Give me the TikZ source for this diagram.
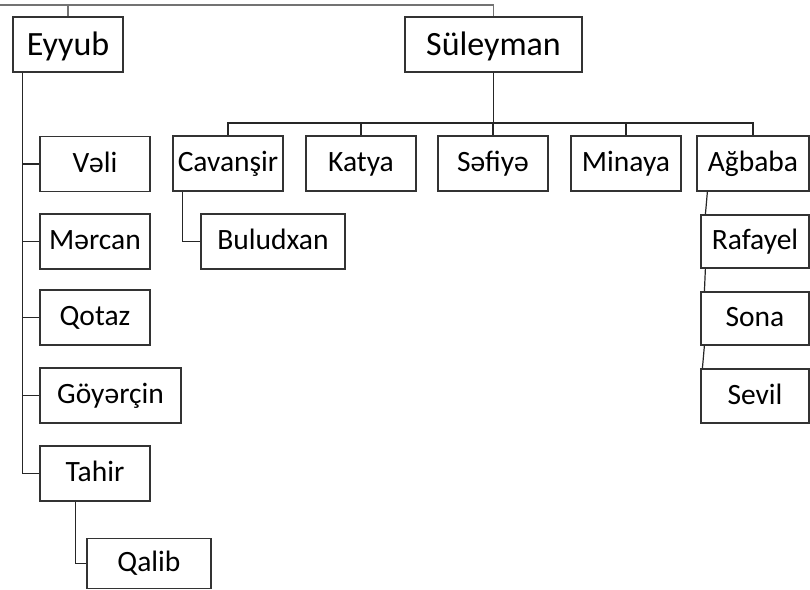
\documentclass[tikz,border=0pt]{standalone}
\usepackage{fontspec}
\setmainfont{Carlito}
\begin{document}
\begin{tikzpicture}
			[x=1pt,y=-1pt,
			box/.style={draw=black!80,line width=1.2pt,minimum height=55pt,inner sep=0pt,text height=22pt,text depth=6pt,font=\fontsize{29.5}{34}\selectfont},
			top/.style={box,text height=28pt,text depth=6pt,font=\fontsize{34}{40}\selectfont},
			link/.style={draw=black!85,line width=1.2pt},
			trunk/.style={draw=black!55,line width=1.6pt}]

			\useasboundingbox (0,0) rectangle (810,589);

			\node[top,minimum width=110pt] (eyyub) at (68,44.5) {Eyyub};
			\node[top,minimum width=177pt] (suleyman) at (493.5,44.5) {Süleyman};

			\node[box,minimum width=110pt] (veli) at (95,164) {Vəli};
			\node[box,minimum width=110pt] (mercan) at (95,241.5) {Mərcan};
			\node[box,minimum width=110pt] (qotaz) at (95,317.5) {Qotaz};
			\node[box,minimum width=141pt] (goyercin) at (110.5,395.5) {Göyərçin};
			\node[box,minimum width=110pt] (tahir) at (95,473.5) {Tahir};
			\node[box,minimum width=124pt,minimum height=50pt] (qalib) at (149,563.5) {Qalib};

			\node[box,minimum width=110pt] (cavansir) at (228,163.5) {Cavanşir};
			\node[box,minimum width=110pt] (katya) at (361,163.5) {Katya};
			\node[box,minimum width=110pt] (sefiye) at (493,163.5) {Səfiyə};
			\node[box,minimum width=110pt] (minaya) at (626,163.5) {Minaya};
			\node[box,minimum width=112pt] (agbaba) at (753,163.5) {Ağbaba};

			\node[box,minimum width=144pt] (buludxan) at (273,241.5) {Buludxan};

			\node[box,minimum width=108pt,minimum height=53pt] (rafayel) at (755,241.5) {Rafayel};
			\node[box,minimum width=108pt,minimum height=53pt] (sona) at (755,318.5) {Sona};
			\node[box,minimum width=108pt,minimum height=54pt] (sevil) at (755,396) {Sevil};

			\coordinate (root) at (0,5);
			\coordinate (sbar) at (0,123);

			\draw[trunk] (root) -| (eyyub.north);
			\draw[trunk] (root) -| (suleyman.north);

			\foreach \c in {veli,mercan,qotaz,goyercin,tahir}
				\draw[link] ([xshift=10pt]eyyub.south west) |- (\c.west);
			\draw[link] ([xshift=36pt]tahir.south west) |- (qalib.west);

			\foreach \c in {cavansir,katya,sefiye,minaya,agbaba}
				\draw[link] (suleyman.south) -- (suleyman.south |- sbar) -| (\c.north);
			\draw[link] ([xshift=10pt]cavansir.south west) |- (buludxan.west);

			\draw[link] ([xshift=11pt]agbaba.south west) -- ([xshift=5pt]rafayel.north west);
			\draw[link] ([xshift=5pt]rafayel.south west) -- ([xshift=4pt]sona.north west);
			\draw[link] ([xshift=4pt]sona.south west) -- ([xshift=2pt]sevil.north west);
		\end{tikzpicture}
\end{document}
